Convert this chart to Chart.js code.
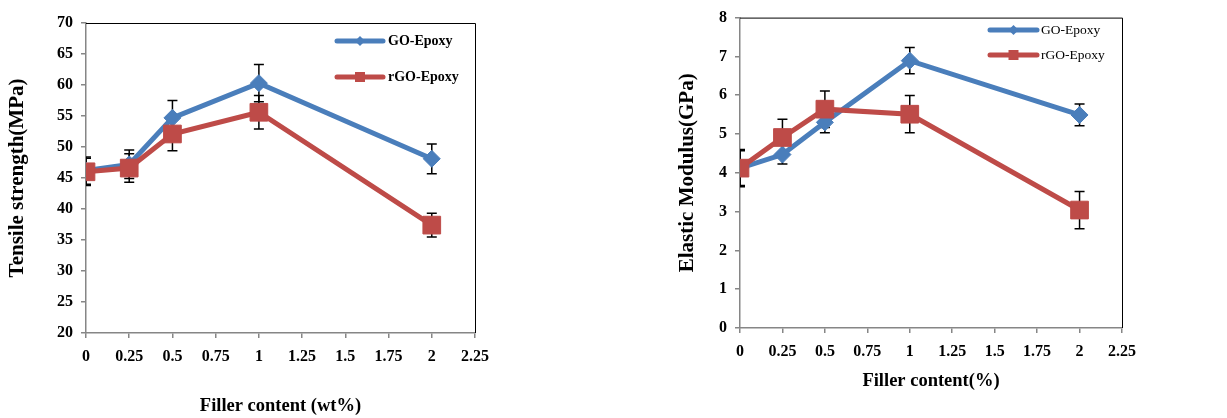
<!DOCTYPE html>
<html><head><meta charset="utf-8">
<script src="https://cdn.jsdelivr.net/npm/chart.js@4.4.0/dist/chart.umd.min.js"></script>
<style>
html,body{margin:0;padding:0;background:#fff;width:1227px;height:418px;overflow:hidden}
.box{position:absolute;top:0;height:418px}
#b1{left:0;width:600px}
#b2{left:620px;width:607px}
</style></head><body>
<div class="box" id="b1"><canvas id="c1"></canvas></div>
<div class="box" id="b2"><canvas id="c2"></canvas></div>
<script>
// ---- data ----
const fillerContent = [0, 0.25, 0.5, 1, 2];
const xTickLabels = ['0','0.25','0.5','0.75','1','1.25','1.5','1.75','2','2.25'];
const seriesNames = ['GO-Epoxy', 'rGO-Epoxy'];

const tensileGO = [46.2, 47.2, 54.7, 60.3, 48.1];
const tensileGOErr = [2.2, 2.3, 2.8, 3.0, 2.4];
const tensileRGO = [46.0, 46.6, 52.1, 55.6, 37.4];
const tensileRGOErr = [2.2, 2.3, 2.7, 2.7, 1.9];

const modulusGO = [4.12, 4.47, 5.30, 6.89, 5.49];
const modulusGOErr = [0.45, 0.24, 0.27, 0.34, 0.28];
const modulusRGO = [4.12, 4.91, 5.64, 5.51, 3.04];
const modulusRGOErr = [0.48, 0.47, 0.47, 0.48, 0.48];

// ---- styles ----
const BLUE = '#4A7EBB', RED = '#BE4B48';
const SERIF = "'Liberation Serif', 'Times New Roman', serif";

const pts = (ys) => fillerContent.map((x, i) => ({x, y: ys[i]}));

const errorBars = {
  id: 'errorBars',
  beforeDatasetsDraw(chart) {
    const {ctx, chartArea: a} = chart;
    const xs = chart.scales.x, ys = chart.scales.y;
    ctx.save();
    ctx.beginPath(); ctx.rect(a.left, a.top, a.right - a.left, a.bottom - a.top); ctx.clip();
    ctx.strokeStyle = '#000'; ctx.lineWidth = 1.5;
    chart.data.datasets.forEach(ds => {
      ds.data.forEach((p, j) => {
        const e = ds.errors[j];
        const x = xs.getPixelForValue(p.x);
        const y1 = ys.getPixelForValue(p.y - e), y2 = ys.getPixelForValue(p.y + e);
        ctx.beginPath();
        ctx.moveTo(x, y1); ctx.lineTo(x, y2);
        ctx.moveTo(x - 5, y1); ctx.lineTo(x + 5, y1);
        ctx.moveTo(x - 5, y2); ctx.lineTo(x + 5, y2);
        ctx.stroke();
      });
    });
    ctx.restore();
  }
};

const frame = {
  id: 'frame',
  afterDatasetsDraw(chart) {
    const {ctx, chartArea: a} = chart;
    ctx.save();
    ctx.strokeStyle = '#000'; ctx.lineWidth = 1;
    ctx.beginPath();
    ctx.moveTo(a.left, a.top + 0.5); ctx.lineTo(a.right + 0.5, a.top + 0.5); ctx.lineTo(a.right + 0.5, a.bottom);
    ctx.stroke();
    ctx.restore();
  }
};

const lineLegend = {
  id: 'lineLegend',
  afterDraw(chart, args, o) {
    const {ctx} = chart;
    ctx.save();
    chart.data.datasets.forEach((ds, i) => {
      const y = o.ys[i];
      ctx.strokeStyle = ds.borderColor; ctx.lineWidth = 5; ctx.lineCap = 'round';
      ctx.beginPath(); ctx.moveTo(o.x1, y); ctx.lineTo(o.x2, y); ctx.stroke();
      const cx = (o.x1 + o.x2) / 2;
      ctx.fillStyle = ds.backgroundColor;
      ctx.beginPath();
      if (ds.pointStyle === 'rectRot') {
        const r = 5;
        ctx.moveTo(cx, y - r); ctx.lineTo(cx + r, y); ctx.lineTo(cx, y + r); ctx.lineTo(cx - r, y);
        ctx.closePath();
      } else {
        ctx.rect(cx - 5, y - 5, 10, 10);
      }
      ctx.fill();
      ctx.fillStyle = '#000'; ctx.font = o.font; ctx.textBaseline = 'middle'; ctx.textAlign = 'left';
      ctx.fillText(ds.label, o.textX, y);
    });
    ctx.restore();
  }
};

function makeChart(id, cfg) {
  const tickFont = {family: SERIF, size: 16, weight: 'bold'};
  const xTitleFont = {family: SERIF, size: 18.5, weight: 'bold'};
  const yTitleFont = {family: SERIF, size: 21, weight: 'bold'};
  return new Chart(document.getElementById(id), {
    type: 'line',
    data: {
      datasets: [
        {label: seriesNames[0], data: pts(cfg.go), errors: cfg.goErr, borderColor: BLUE, backgroundColor: BLUE,
         borderWidth: 5, pointStyle: 'rectRot', pointRadius: 8.5, pointBorderWidth: 1, order: 1, tension: 0},
        {label: seriesNames[1], data: pts(cfg.rgo), errors: cfg.rgoErr, borderColor: RED, backgroundColor: RED,
         borderWidth: 5, pointStyle: 'rect', pointRadius: 12.5, pointBorderWidth: 1, order: 0, tension: 0}
      ]
    },
    options: {
      responsive: true, maintainAspectRatio: false, animation: false,
      layout: {padding: cfg.padding},
      plugins: {legend: {display: false}, tooltip: {enabled: false}, lineLegend: cfg.legend},
      scales: {
        x: {
          type: 'linear', min: 0, max: 2.25,
          ticks: {stepSize: 0.25, callback: (v, i) => xTickLabels[i], font: tickFont, color: '#000', padding: 9, maxRotation: 0, autoSkip: false},
          grid: {drawOnChartArea: false, tickLength: 5, color: '#868686', lineWidth: 1.5},
          border: {color: '#868686', width: 1.5},
          title: {display: true, text: cfg.xTitle, font: xTitleFont, color: '#000', padding: cfg.xTitlePad},
          afterFit: s => { s.height = cfg.xH; }
        },
        y: {
          min: cfg.yMin, max: cfg.yMax,
          ticks: {stepSize: cfg.yStep, font: tickFont, color: '#000', padding: 8},
          grid: {drawOnChartArea: false, tickLength: 5, color: '#868686', lineWidth: 1.5},
          border: {color: '#868686', width: 1.5},
          title: {display: true, text: cfg.yTitle, font: yTitleFont, color: '#000', padding: cfg.yTitlePad},
          afterFit: s => { s.width = cfg.yW; }
        }
      }
    },
    plugins: [errorBars, frame, lineLegend]
  });
}

makeChart('c1', {
  go: tensileGO, goErr: tensileGOErr, rgo: tensileRGO, rgoErr: tensileRGOErr,
  yMin: 20, yMax: 70, yStep: 5,
  xTitle: 'Filler content (wt%)', yTitle: 'Tensile strength(MPa)',
  padding: {left: 0, right: 125, top: 23, bottom: 0},
  xH: 85, yW: 86, xTitlePad: {top: 0, bottom: 1}, yTitlePad: {top: 5, bottom: 0},
  legend: {x1: 337, x2: 383, textX: 388, ys: [41, 77], font: "bold 14px " + SERIF}
});

makeChart('c2', {
  go: modulusGO, goErr: modulusGOErr, rgo: modulusRGO, rgoErr: modulusRGOErr,
  yMin: 0, yMax: 8, yStep: 1,
  xTitle: 'Filler content(%)', yTitle: 'Elastic Modulus(GPa)',
  padding: {left: 55, right: 105, top: 17, bottom: 24},
  xH: 66, yW: 65, xTitlePad: {top: 0, bottom: 2}, yTitlePad: {top: 0, bottom: 0},
  legend: {x1: 370, x2: 417, textX: 421, ys: [30, 55], font: "13.5px " + SERIF}
});
</script>
</body></html>
